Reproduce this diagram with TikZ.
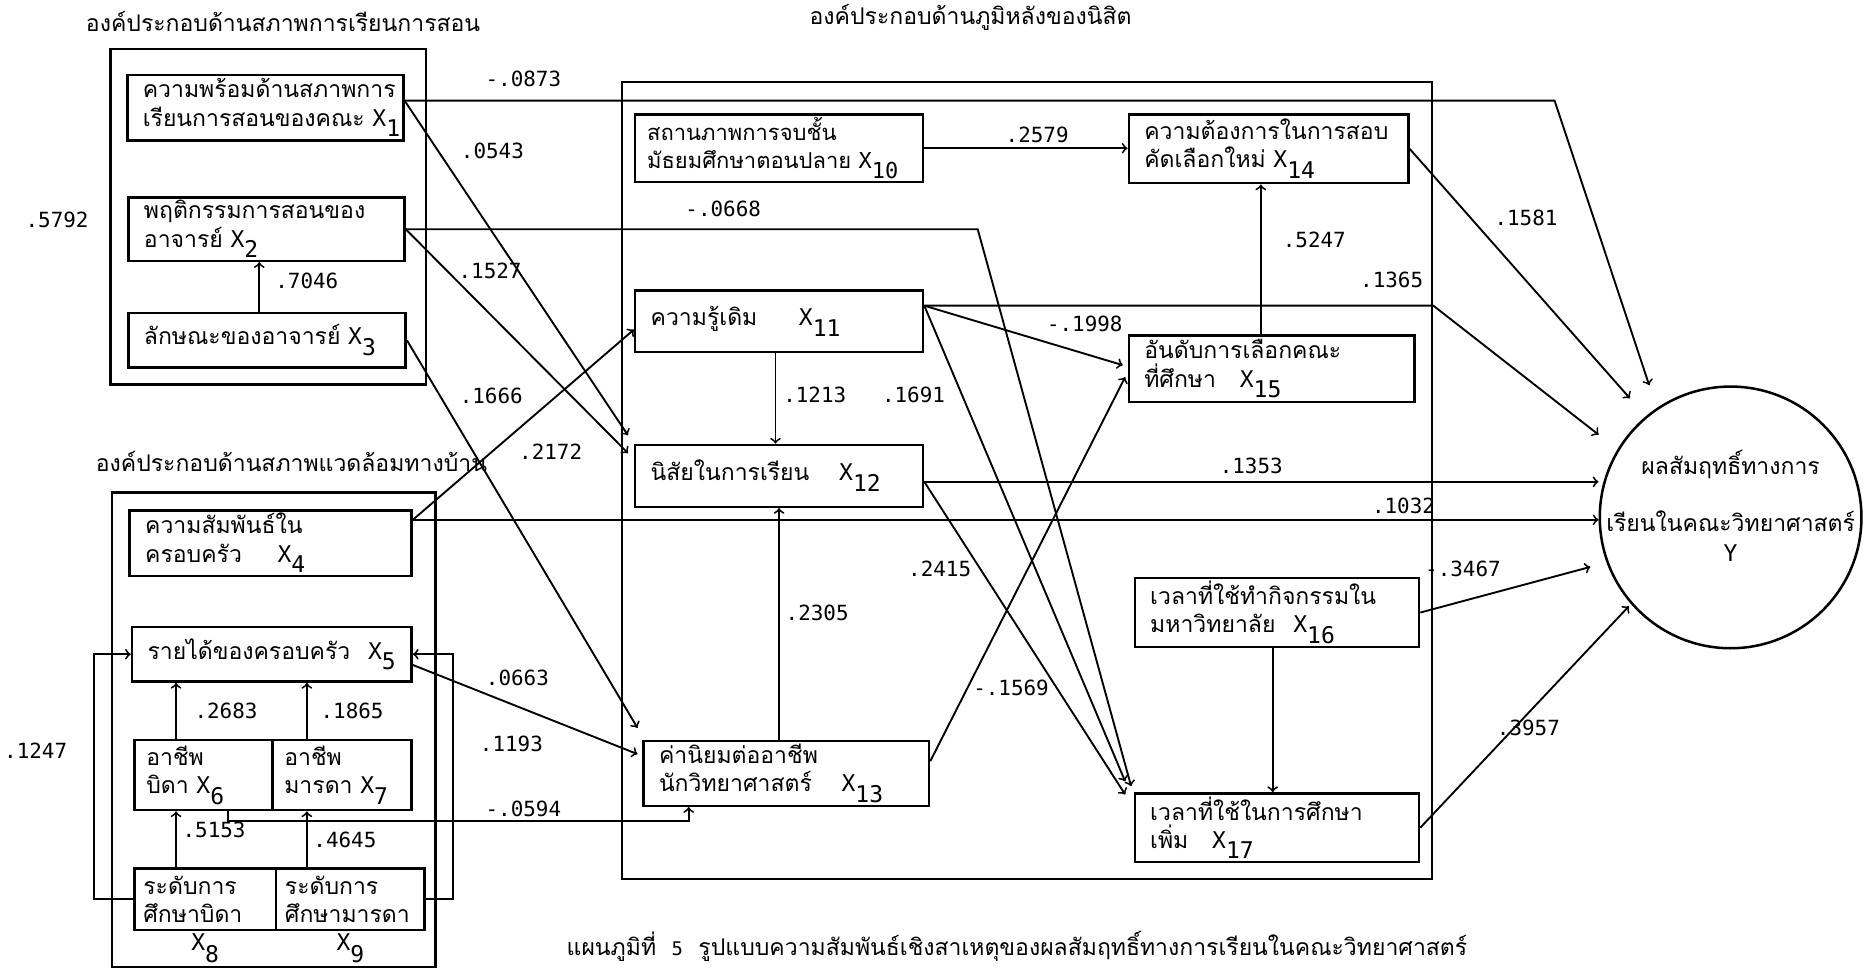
\documentclass[tikz,border=0pt]{standalone}
\usepackage{fontspec}
\usetikzlibrary{positioning}
\newfontfamily\thaifont[Script=Thai]{Loma}
\newfontfamily\numfont{DejaVu Sans Mono}
\newcommand{\xs}[1]{{\numfont X}\raisebox{-0.9ex}{\numfont #1}}

\begin{document}
\begin{tikzpicture}[x=0.2mm, y=-0.2mm,
  vbox/.style={draw, line width=1.2pt, anchor=north west, align=left, inner xsep=2.6mm, inner ysep=0.5mm, font=\thaifont\fontsize{11}{13.5}\selectfont},
  group/.style={draw, line width=1.2pt, anchor=north west, inner sep=0pt},
  outcome/.style={draw, circle, line width=1.2pt, minimum size=44mm, inner sep=0pt},
  coef/.style={font=\numfont\fontsize{10}{12}\selectfont, inner sep=1pt},
  head/.style={font=\thaifont\fontsize{11}{13}\selectfont, inner sep=1pt},
  link/.style={->, line width=0.9pt}
]
\useasboundingbox (0,0) rectangle (1568,816);

\node[group, minimum width=53mm, minimum height=56.4mm] (g1) at (92,40) {};
\node[group, minimum width=54.4mm, minimum height=79.8mm] (g2) at (93,413) {};
\node[group, minimum width=136.2mm, minimum height=134mm] (gm) at (522,68) {};

\node[head] (t1) at (238,18) {องค์ประกอบด้านสภาพการเรียนการสอน};
\node[head] (t2) at (245,388) {องค์ประกอบด้านสภาพแวดล้อมทางบ้าน};
\node[head] (t3) at (816,15) {องค์ประกอบด้านภูมิหลังของนิสิต};
\node[head] (cap) at (855,796) {แผนภูมิที่~~{\numfont\small 5}~~รูปแบบความสัมพันธ์เชิงสาเหตุของผลสัมฤทธิ์ทางการเรียนในคณะวิทยาศาสตร์};

\node[vbox, text width=41.2mm, minimum height=11mm] (x1) at (106,62) {ความพร้อมด้านสภาพการ\\เรียนการสอนของคณะ~\xs{1}};
\node[vbox, text width=41.2mm, minimum height=10.2mm] (x2) at (107,165) {พฤติกรรมการสอนของ\\อาจารย์~\xs{2}};
\node[vbox, text width=41.4mm, minimum height=9.2mm] (x3) at (107,262) {ลักษณะของอาจารย์~\xs{3}};
\node[vbox, text width=42.2mm, minimum height=11mm] (x4) at (108,428) {ความสัมพันธ์ใน\\ครอบครัว\hspace{6mm}\xs{4}};
\node[vbox, text width=41.8mm, minimum height=9.2mm] (x5) at (110,526) {รายได้ของครอบครัว\hspace{3mm}\xs{5}};
\node[vbox, inner xsep=2mm, text width=19.2mm, minimum height=11.8mm] (x6) at (112,621) {อาชีพ\\บิดา~\xs{6}};
\node[vbox, inner xsep=2mm, text width=19.4mm, minimum height=11.8mm] (x7) at (228,621) {อาชีพ\\มารดา~\xs{7}};
\node[vbox, inner xsep=1.5mm, text width=20.8mm, minimum height=10.4mm, label={[coef, font=\numfont\fontsize{11}{12}\selectfont]below:\xs{8}}] (x8) at (112,729) {ระดับการ\\ศึกษาบิดา};
\node[vbox, inner xsep=1.5mm, text width=22mm, minimum height=10.4mm, label={[coef, font=\numfont\fontsize{11}{12}\selectfont]below:\xs{9}}] (x9) at (231,729) {ระดับการ\\ศึกษามารดา};

\node[vbox, inner xsep=2mm, text width=44.4mm, minimum height=10.6mm, font=\thaifont\fontsize{10.5}{13.5}\selectfont] (x10) at (533,95) {สถานภาพการจบชั้น\\มัธยมศึกษาตอนปลาย~\xs{10}};
\node[vbox, text width=43.2mm, minimum height=10.4mm] (x11) at (533,243) {ความรู้เดิม\hspace{7mm}\xs{11}};
\node[vbox, text width=43.2mm, minimum height=10.4mm] (x12) at (533,373) {นิสัยในการเรียน\hspace{5mm}\xs{12}};
\node[vbox, text width=42.8mm, minimum height=10.6mm] (x13) at (540,622) {ค่านิยมต่ออาชีพ\\นักวิทยาศาสตร์\hspace{5mm}\xs{13}};
\node[vbox, text width=41.8mm, minimum height=11.6mm] (x14) at (948,95) {ความต้องการในการสอบ\\คัดเลือกใหม่~\xs{14}};
\node[vbox, text width=42.8mm, minimum height=11.2mm] (x15) at (948,281) {อันดับการเลือกคณะ\\ที่ศึกษา\hspace{4mm}\xs{15}};
\node[vbox, text width=42.6mm, minimum height=11.4mm] (x16) at (953,485) {เวลาที่ใช้ทำกิจกรรมใน\\มหาวิทยาลัย\hspace{3mm}\xs{16}};
\node[vbox, text width=42.6mm, minimum height=10.8mm] (x17) at (953,666) {เวลาที่ใช้ในการศึกษา\\เพิ่ม\hspace{4mm}\xs{17}};

\node[outcome, label={[head, align=center, yshift=2mm]center:{ผลสัมฤทธิ์ทางการ\\[5mm]เรียนในคณะวิทยาศาสตร์\\[0.5mm]{\numfont Y}}}] (y) at (1455,435) {};

\coordinate (b1) at (1307,0);
\coordinate (b2) at (822,0);
\coordinate (b3) at (579,690);
\coordinate (s1) at ([yshift=1.2mm]x1.east);
\coordinate (s4) at ([yshift=-1.8mm]x4.north east);
\coordinate (s11) at ([yshift=-2.8mm]x11.north east);
\coordinate (s12) at ([yshift=-1mm]x12.east);
\coordinate (p3) at ([xshift=22.2mm]x3.north west);
\coordinate (p6) at ([xshift=7.2mm]x6.north west);
\coordinate (p7) at ([xshift=6mm]x7.north west);
\coordinate (p8) at ([xshift=7.2mm]x8.north west);
\coordinate (p9) at ([xshift=5.4mm]x9.north west);
\coordinate (p11) at ([xshift=23.8mm]x11.south west);
\coordinate (p13) at ([xshift=23mm]x13.north west);
\coordinate (p15) at ([xshift=22.4mm]x15.north west);
\coordinate (p16) at ([xshift=23.4mm]x16.south west);

\draw[link] (p3) -- (p3 |- x2.south);
\draw[link] (p6) -- (p6 |- x5.south);
\draw[link] (p7) -- (p7 |- x5.south);
\draw[link] (p8) -- (p8 |- x6.south);
\draw[link] (p9) -- (p9 |- x7.south);
\draw[link] (x8.west) -- ++(-6.6mm,0) |- (x5.west);
\draw[link] (x9.east) -- ++(4.6mm,0) |- (x5.east);

\draw[link, shorten >=4mm] (s1) -- (s1 -| b1) -- (y.124);
\draw[link] (s1) -- ([xshift=-1mm,yshift=1.4mm]x12.north west);
\draw[link] (x2.east) -- (x2.east -| b2) -- ([xshift=-0.4mm,yshift=1mm]x17.north west);
\draw[link] (x2.east) -- ([xshift=-1mm,yshift=-1.6mm]x12.north west);
\draw[link] (x3.east) -- ([xshift=-0.8mm,yshift=2mm]x13.north west);
\draw[link] (s4) -- ([yshift=-1.4mm]x11.west);
\draw[link] (s4) -- (s4 -| y.west);
\draw[link] ([yshift=-1.8mm]x5.east) -- ([xshift=-0.8mm,yshift=-2.4mm]x13.north west);
\draw[link] ([xshift=4.2mm]x6.south) |- (b3) -- (b3 |- x13.south);

\draw[link] (x10.east) -- (x10.east -| x14.west);
\draw[link] (p11) -- (p11 |- x12.north);
\draw[link] (p13) -- (p13 |- x12.south);
\draw[link] (p15) -- (p15 |- x14.south);
\draw[link] (p16) -- (p16 |- x17.north);
\draw[link, shorten >=4mm] (s11) -- (s11 -| gm.east) -- (y.149);
\draw[link] (s11) -- ([xshift=-0.8mm,yshift=-5.2mm]x15.north west);
\draw[link] (s11) -- ([xshift=-1.4mm,yshift=1.8mm]x17.north west);
\draw[link] (s12) -- (s12 -| y.west);
\draw[link] (s12) -- ([xshift=-1.4mm,yshift=-0.4mm]x17.north west);
\draw[link] ([yshift=-3.6mm]x13.north east) -- ([xshift=-0.4mm,yshift=-7.2mm]x15.north west);
\draw[link, shorten >=4mm] (x14.east) -- (y.130);
\draw[link, shorten >=2.8mm] (x16.east) -- (y.200);
\draw[link, shorten >=0.5mm] (x17.east) -- (y.221);

\node[coef] (c0873) at (440,66) {-.0873};
\node[coef] (c0543) at (414,127) {.0543};
\node[coef] (c0668) at (608,176) {-.0668};
\node[coef] (c1527) at (412,228) {.1527};
\node[coef] (c7046) at (258,236) {.7046};
\node[coef] (c5792) at (48,185) {.5792};
\node[coef] (c1666) at (413,333) {.1666};
\node[coef] (c2172) at (463,380) {.2172};
\node[coef] (c0663) at (435,570) {.0663};
\node[coef] (c1193) at (430,625) {.1193};
\node[coef] (c0594) at (440,680) {-.0594};
\node[coef] (c1247) at (30,631) {.1247};
\node[coef] (c2683) at (190,598) {.2683};
\node[coef] (c1865) at (296,598) {.1865};
\node[coef] (c5153) at (180,698) {.5153};
\node[coef] (c4645) at (290,706) {.4645};
\node[coef] (c2579) at (872,113) {.2579};
\node[coef] (c1213) at (685,332) {.1213};
\node[coef] (c1691) at (768,332) {.1691};
\node[coef] (c1998) at (912,272) {-.1998};
\node[coef] (c5247) at (1105,202) {.5247};
\node[coef] (c1365) at (1170,235) {.1365};
\node[coef] (c1581) at (1283,183) {.1581};
\node[coef] (c1353) at (1052,392) {.1353};
\node[coef] (c1032) at (1180,425) {.1032};
\node[coef] (c2415) at (790,478) {.2415};
\node[coef] (c2305) at (687,515) {.2305};
\node[coef] (c1569) at (850,578) {-.1569};
\node[coef] (c3467) at (1230,478) {-.3467};
\node[coef] (c3957) at (1285,612) {.3957};
\end{tikzpicture}
\end{document}
